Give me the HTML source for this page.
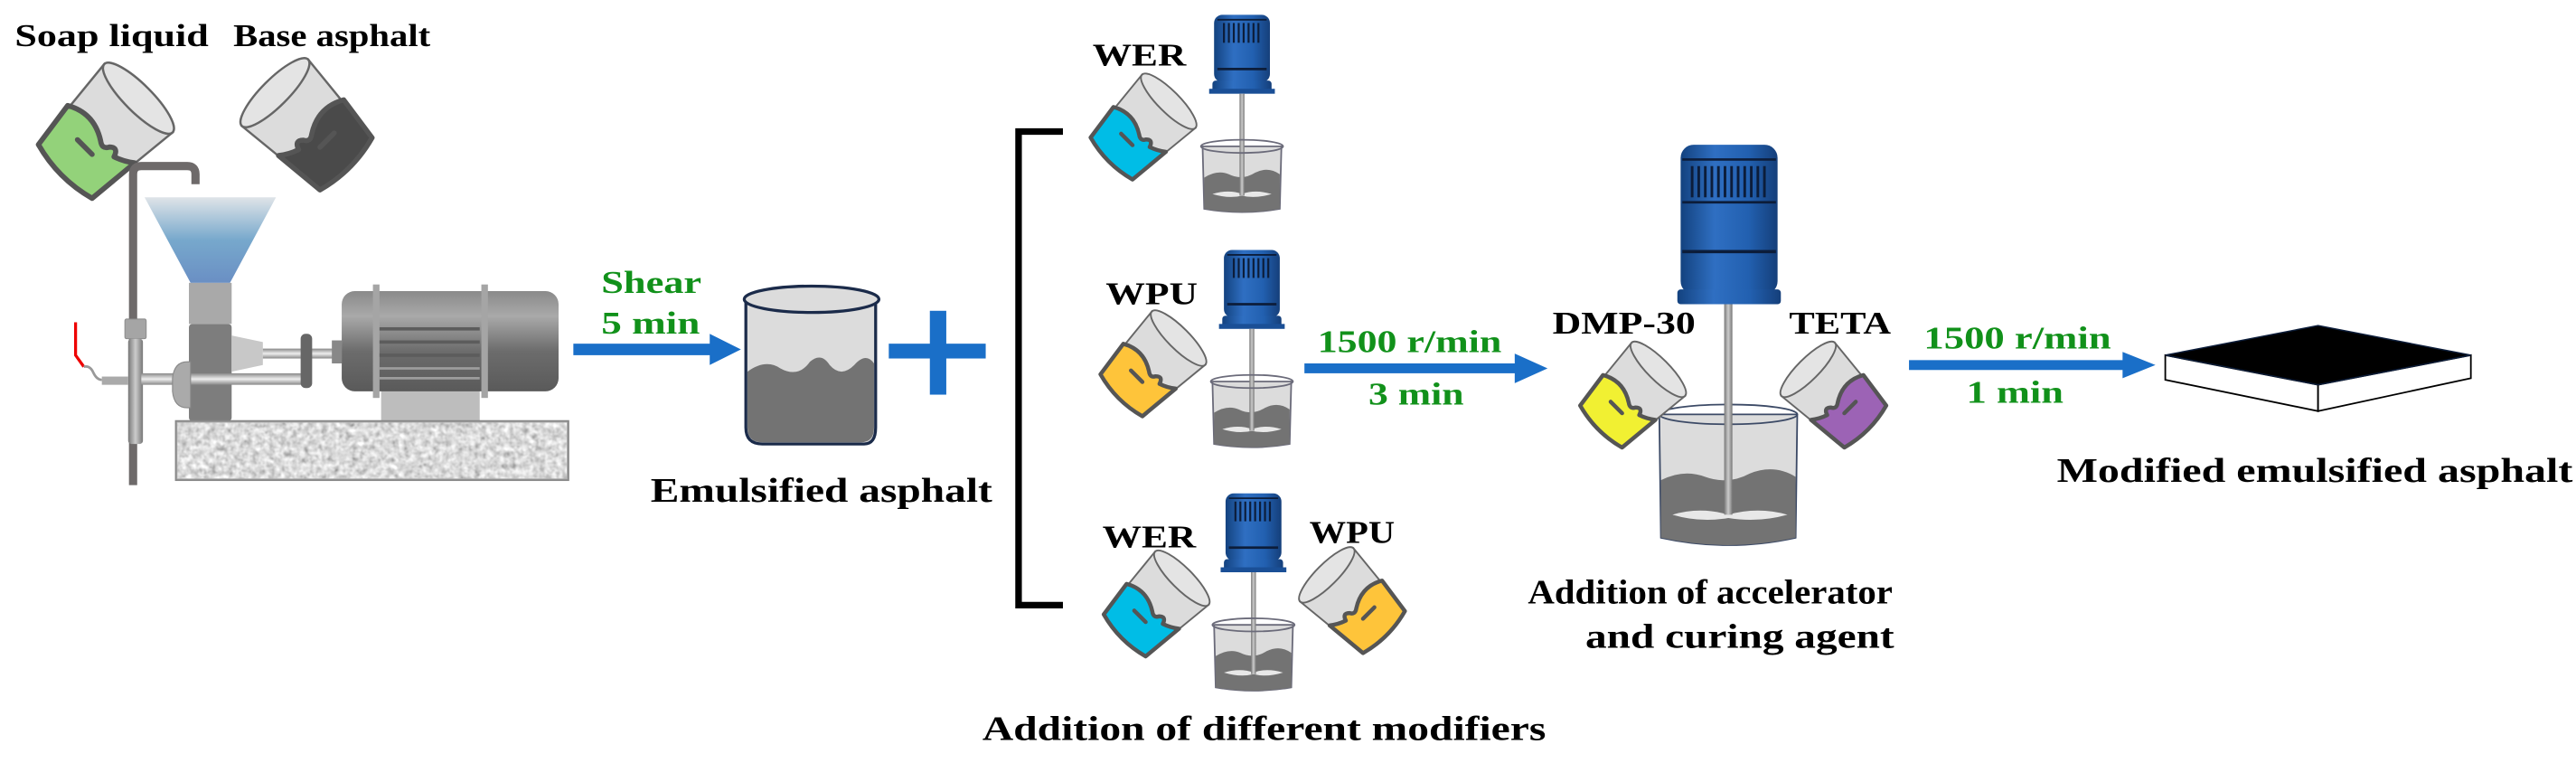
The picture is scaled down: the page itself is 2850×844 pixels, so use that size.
<!DOCTYPE html>
<html><head><meta charset="utf-8"><style>html,body{margin:0;padding:0;background:#fff}svg{display:block}text{font-family:"Liberation Serif","Times New Roman",serif;font-weight:bold}</style></head>
<body>
<svg width="2850" height="844" viewBox="0 0 1568 464" preserveAspectRatio="none" xmlns="http://www.w3.org/2000/svg">
<defs>
<linearGradient id="fun" x1="0" y1="0" x2="0" y2="1"><stop offset="0" stop-color="#dfe4e8"/><stop offset="0.5" stop-color="#77a8cc"/><stop offset="1" stop-color="#6a8fc4"/></linearGradient>
<linearGradient id="mot" x1="0" y1="0" x2="0" y2="1"><stop offset="0" stop-color="#8a8a8a"/><stop offset="0.25" stop-color="#a9a9a9"/><stop offset="0.6" stop-color="#6c6c6c"/><stop offset="1" stop-color="#5a5a5a"/></linearGradient>
<linearGradient id="blu" x1="0" y1="0" x2="1" y2="0"><stop offset="0" stop-color="#13427f"/><stop offset="0.35" stop-color="#2f6fc2"/><stop offset="0.7" stop-color="#2260b0"/><stop offset="1" stop-color="#153f7a"/></linearGradient>
<linearGradient id="rod" x1="0" y1="0" x2="1" y2="0"><stop offset="0" stop-color="#777"/><stop offset="0.5" stop-color="#ccc"/><stop offset="1" stop-color="#777"/></linearGradient>
<linearGradient id="shaft" x1="0" y1="0" x2="0" y2="1"><stop offset="0" stop-color="#888"/><stop offset="0.5" stop-color="#eee"/><stop offset="1" stop-color="#888"/></linearGradient>
<filter id="noise" x="0" y="0" width="1" height="1"><feTurbulence type="fractalNoise" baseFrequency="0.28" numOctaves="2" seed="3"/><feColorMatrix type="matrix" values="0.5 0.5 0.5 0 -0.05  0.5 0.5 0.5 0 -0.05  0.5 0.5 0.5 0 -0.05  0 0 0 0 1"/><feComposite in2="SourceGraphic" operator="in"/></filter>
<g id="cup">
<path d="M-28,-30 L28,-30 L22,30 Q0,36 -22,30 Z" fill="#dcdcdc" stroke="#666" stroke-width="1.3"/>
<path d="M-26,2 Q-12,-6 2,3 Q6,6 8,2 Q12,-2 14,4 Q20,2 25,-2 L22,30 Q0,36 -22,30 Z" stroke="#555" stroke-width="3" stroke-linejoin="round"/>
<line x1="-8" y1="12" x2="4" y2="12" stroke="#555" stroke-width="3" stroke-linecap="round"/>
<ellipse cx="0" cy="-30" rx="28" ry="8" fill="#e4e4e4" stroke="#666" stroke-width="1.3"/>
</g>
<g id="mix">
<rect x="-17" y="0" width="34" height="41" rx="5" fill="url(#blu)"/>
<g stroke="#0c1d3a" stroke-width="1.2"><line x1="-11" y1="5" x2="-11" y2="17"/><line x1="-8" y1="5" x2="-8" y2="17"/><line x1="-5" y1="5" x2="-5" y2="17"/><line x1="-2" y1="5" x2="-2" y2="17"/><line x1="1" y1="5" x2="1" y2="17"/><line x1="4" y1="5" x2="4" y2="17"/><line x1="7" y1="5" x2="7" y2="17"/><line x1="10" y1="5" x2="10" y2="17"/></g>
<line x1="-15" y1="3" x2="15" y2="3" stroke="#0c1d3a" stroke-width="1"/>
<line x1="-15" y1="33" x2="15" y2="33" stroke="#0c1d3a" stroke-width="1.5"/>
<rect x="-18" y="40" width="36" height="7" rx="2" fill="url(#blu)"/>
<rect x="-20" y="45" width="40" height="3" fill="#1a4f96"/>
<path d="M-24,80 L24,80 L23,118 Q0,122 -23,118 Z" fill="#dcdcdc" stroke="#6b6b7a" stroke-width="1"/>
<path d="M-23,99 Q-15,94 -8,97 Q0,101 8,96 Q16,92 23,97 L23,118 Q0,122 -23,118 Z" fill="#737373"/>
<path d="M-18,109 Q-8,106 0,109 Q8,106 18,109 Q8,112 0,110 Q-8,112 -18,109 Z" fill="#e8e8e8"/>
<rect x="-1.5" y="48" width="3" height="62" fill="url(#rod)"/>
<ellipse cx="0" cy="80" rx="25" ry="4" fill="none" stroke="#6b6b7a" stroke-width="1"/>
</g>
</defs>

<text x="9" y="28" font-size="19" textLength="118" lengthAdjust="spacingAndGlyphs">Soap liquid</text>
<text x="142" y="28" font-size="19" textLength="120" lengthAdjust="spacingAndGlyphs">Base asphalt</text>

<use href="#cup" fill="#93d27a" transform="translate(62,82) rotate(45) scale(1.05)"/>
<use href="#cup" fill="#4a4a4a" transform="translate(189,78) rotate(-45) scale(1.02) scale(-1,1)"/>

<path d="M81,295 L81,106 Q81,101 86,101 L114,101 Q119,101 119,106 L119,112" fill="none" stroke="#6e6a6a" stroke-width="5"/>
<rect x="76" y="194" width="13" height="12" rx="1" fill="#a5a5a5" stroke="#888" stroke-width="0.5"/>
<rect x="78" y="206" width="9" height="64" rx="2" fill="url(#rod)"/>
<polyline points="46,196 46,216 51,223" fill="none" stroke="#e00" stroke-width="1.8"/>
<path d="M51,223 Q55,222 57,227 Q59,231 62,231" fill="none" stroke="#999" stroke-width="1.5"/>
<rect x="62" y="229" width="16" height="5" fill="#aaa"/>
<polygon points="88,120 168,120 140,172 116,172" fill="url(#fun)"/>
<rect x="115" y="172" width="26" height="25" fill="#a9a9a9"/>
<rect x="115" y="197" width="26" height="59" rx="2" fill="#7d7d7d"/>
<path d="M141,204 L160,208 L160,222 L141,226 Z" fill="#c8c8c8"/>
<rect x="86" y="227" width="100" height="7" fill="url(#shaft)"/>
<rect x="160" y="212" width="45" height="6" fill="url(#shaft)"/>
<rect x="183" y="203" width="7" height="33" rx="3" fill="#666"/>
<path d="M105,230 Q106,220 114,220 L116,220 L116,248 L114,248 Q106,248 105,238 Z" fill="#aaa" stroke="#888" stroke-width="0.6"/>
<rect x="202" y="207" width="6" height="14" fill="#888"/>
<rect x="232" y="237" width="60" height="19" fill="#bdbdbd"/>
<rect x="208" y="177" width="132" height="61" rx="8" fill="url(#mot)"/>
<rect x="227" y="173" width="4" height="69" fill="#a5a5a5"/>
<rect x="293" y="173" width="4" height="69" fill="#a5a5a5"/>
<g stroke="#5c5c5c" stroke-width="2"><line x1="231" y1="200" x2="292" y2="200"/><line x1="231" y1="208" x2="292" y2="208"/><line x1="231" y1="216" x2="292" y2="216"/></g>
<g stroke="#9c9c9c" stroke-width="1.5"><line x1="231" y1="224" x2="292" y2="224"/><line x1="231" y1="230" x2="292" y2="230"/></g>
<rect x="107" y="256" width="239" height="36" fill="#aaa" stroke="#888" stroke-width="1"/>
<rect x="108" y="257" width="237" height="34" fill="#fff" filter="url(#noise)"/>

<text x="366" y="178" font-size="19" fill="#11911a" textLength="61" lengthAdjust="spacingAndGlyphs">Shear</text>
<text x="366" y="203" font-size="19" fill="#11911a" textLength="60" lengthAdjust="spacingAndGlyphs">5 min</text>
<rect x="349" y="209" width="85" height="7" fill="#1a6fc8"/>
<polygon points="432,203 451,212.5 432,222" fill="#1a6fc8"/>

<path d="M454,183 L454,260 Q454,270 464,270 L526,270 Q533,270 533,260 L533,183 Z" fill="#dcdcdc" stroke="#1b2b4a" stroke-width="1.8"/>
<path d="M455,226 Q466,218 475,224 Q486,230 493,220 Q500,214 505,222 Q512,230 520,222 Q527,214 532,221 L532,260 Q532,269 524,269 L464,269 Q455,269 455,260 Z" fill="#737373"/>
<ellipse cx="494" cy="182" rx="41" ry="8" fill="#dcdcdc" stroke="#1b2b4a" stroke-width="1.8"/>
<rect x="566" y="189" width="10" height="51" fill="#1a6fc8"/>
<rect x="541" y="209" width="59" height="9" fill="#1a6fc8"/>
<text x="396" y="305" font-size="21" textLength="208" lengthAdjust="spacingAndGlyphs">Emulsified asphalt</text>

<path d="M647,80 L620,80 L620,368 L647,368" fill="none" stroke="#000" stroke-width="4"/>

<text x="665" y="40" font-size="19" textLength="57" lengthAdjust="spacingAndGlyphs">WER</text>
<use href="#mix" transform="translate(756,9)"/>
<use href="#cup" fill="#00bde6" transform="translate(694,79) rotate(45) scale(0.82)"/>
<text x="673" y="185" font-size="19" textLength="56" lengthAdjust="spacingAndGlyphs">WPU</text>
<use href="#mix" transform="translate(762,152)"/>
<use href="#cup" fill="#fec43a" transform="translate(700,223) rotate(45) scale(0.82)"/>
<text x="671" y="333" font-size="19" textLength="57" lengthAdjust="spacingAndGlyphs">WER</text>
<text x="797" y="330" font-size="19" textLength="52" lengthAdjust="spacingAndGlyphs">WPU</text>
<use href="#mix" transform="translate(763,300)"/>
<use href="#cup" fill="#00bde6" transform="translate(702,369) rotate(45) scale(0.82)"/>
<use href="#cup" fill="#fec43a" transform="translate(825,367) rotate(-45) scale(0.82) scale(-1,1)"/>
<text x="598" y="450" font-size="21" textLength="343" lengthAdjust="spacingAndGlyphs">Addition of different modifiers</text>

<text x="802" y="214" font-size="19" fill="#11911a" textLength="112" lengthAdjust="spacingAndGlyphs">1500 r/min</text>
<text x="833" y="246" font-size="19" fill="#11911a" textLength="58" lengthAdjust="spacingAndGlyphs">3 min</text>
<rect x="794" y="221" width="130" height="6" fill="#1a6fc8"/>
<polygon points="922,215 942,224 922,233" fill="#1a6fc8"/>

<path d="M1010,252 L1011,327 Q1052,336 1093,327 L1094,252 Z" fill="#dcdcdc" stroke="#3c4a66" stroke-width="1"/>
<path d="M1011,292 Q1025,285 1038,290 Q1052,295 1065,288 Q1080,282 1093,290 L1093,327 Q1052,336 1011,327 Z" fill="#737373"/>
<path d="M1018,313 Q1035,308 1052,313 Q1070,308 1088,313 Q1070,318 1052,315 Q1035,318 1018,313 Z" fill="#e8e8e8"/>
<ellipse cx="1052" cy="252" rx="42" ry="6" fill="none" stroke="#3c4a66" stroke-width="1"/>
<rect x="1049.5" y="185" width="5" height="128" fill="url(#rod)"/>
<rect x="1023" y="88" width="59" height="91" rx="8" fill="url(#blu)"/>
<line x1="1024" y1="97" x2="1081" y2="97" stroke="#0c1d3a" stroke-width="1.5"/>
<g stroke="#0c1d3a" stroke-width="1.6"><line x1="1030" y1="101" x2="1030" y2="120"/><line x1="1034" y1="101" x2="1034" y2="120"/><line x1="1038" y1="101" x2="1038" y2="120"/><line x1="1042" y1="101" x2="1042" y2="120"/><line x1="1046" y1="101" x2="1046" y2="120"/><line x1="1050" y1="101" x2="1050" y2="120"/><line x1="1054" y1="101" x2="1054" y2="120"/><line x1="1058" y1="101" x2="1058" y2="120"/><line x1="1062" y1="101" x2="1062" y2="120"/><line x1="1066" y1="101" x2="1066" y2="120"/><line x1="1070" y1="101" x2="1070" y2="120"/><line x1="1074" y1="101" x2="1074" y2="120"/></g>
<line x1="1024" y1="123" x2="1081" y2="123" stroke="#0c1d3a" stroke-width="1.5"/>
<line x1="1024" y1="153" x2="1081" y2="153" stroke="#0c1d3a" stroke-width="2"/>
<rect x="1021" y="176" width="63" height="9" rx="2" fill="url(#blu)"/>
<use href="#cup" fill="#f1f032" transform="translate(992,242) rotate(45) scale(0.82)"/>
<use href="#cup" fill="#9c63b5" transform="translate(1118,242) rotate(-45) scale(0.82) scale(-1,1)"/>
<text x="945" y="203" font-size="19" textLength="87" lengthAdjust="spacingAndGlyphs">DMP-30</text>
<text x="1089" y="203" font-size="19" textLength="62" lengthAdjust="spacingAndGlyphs">TETA</text>
<text x="930" y="367" font-size="21" textLength="222" lengthAdjust="spacingAndGlyphs">Addition of accelerator</text>
<text x="965" y="394" font-size="21" textLength="188" lengthAdjust="spacingAndGlyphs">and curing agent</text>

<text x="1171" y="212" font-size="19" fill="#11911a" textLength="114" lengthAdjust="spacingAndGlyphs">1500 r/min</text>
<text x="1197" y="245" font-size="19" fill="#11911a" textLength="59" lengthAdjust="spacingAndGlyphs">1 min</text>
<rect x="1162" y="219" width="132" height="6" fill="#1a6fc8"/>
<polygon points="1292,214 1312,222 1292,230" fill="#1a6fc8"/>

<polygon points="1318,216 1411,234 1411,250 1318,231" fill="#fff" stroke="#000" stroke-width="1"/>
<polygon points="1411,234 1504,216 1504,230 1411,250" fill="#fff" stroke="#000" stroke-width="1"/>
<polygon points="1318,216 1411,198 1504,216 1411,234" fill="#000" stroke="#0c1d3a" stroke-width="0.8"/>
<text x="1252" y="293" font-size="21" textLength="314" lengthAdjust="spacingAndGlyphs">Modified emulsified asphalt</text>
</svg>
</body></html>
